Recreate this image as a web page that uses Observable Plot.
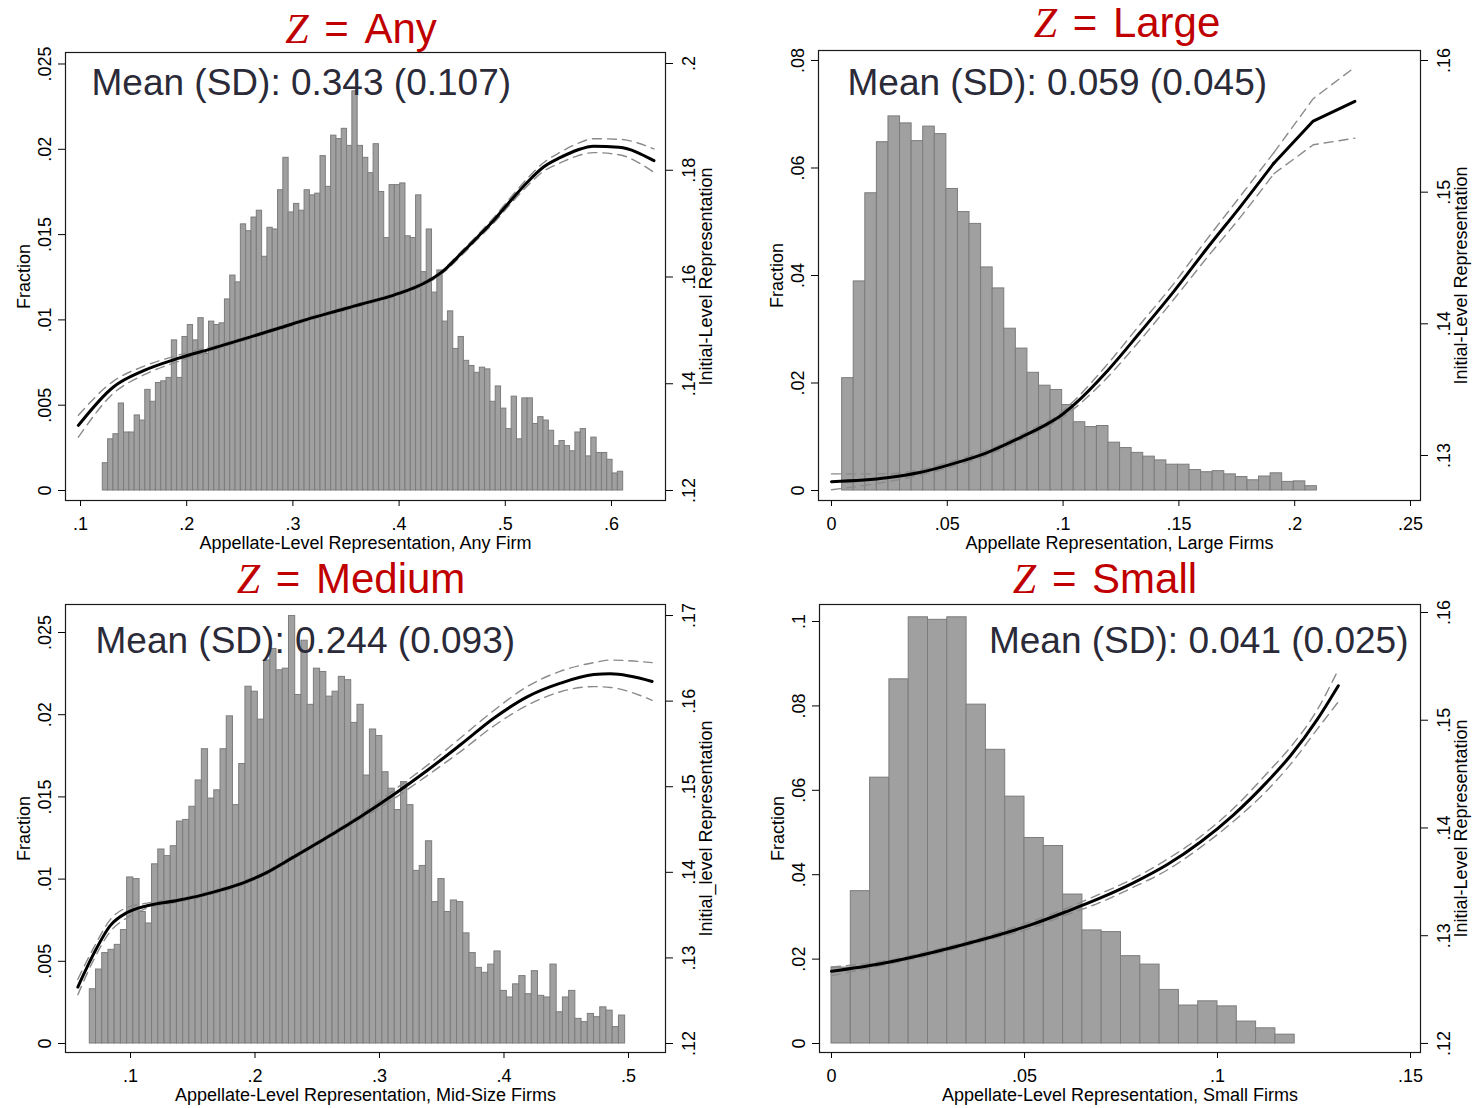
<!DOCTYPE html>
<html><head><meta charset="utf-8">
<script src="https://cdn.jsdelivr.net/npm/d3@7"></script>
<script src="https://cdn.jsdelivr.net/npm/@observablehq/plot@0.6"></script>
<style>
body{margin:0;background:#fff;}
#page{position:relative;width:1473px;height:1108px;overflow:hidden;background:#fff;font-family:"Liberation Sans",Arial,sans-serif;}
.layer{position:absolute;}
.layer svg{position:absolute;left:0;top:0;display:block;}
.ztitle{position:absolute;color:#c00000;font-size:42px;line-height:1;white-space:nowrap;transform:translateX(-50%);font-family:"Liberation Sans",Arial,sans-serif;}
.ztitle i{font-family:"Liberation Serif",serif;font-style:italic;}
.ztitle .eq{margin:0 4px;}
</style></head><body><div id="page"></div>
<script>
// ---------------- DATA ----------------
const binWidth = 0.005;

// Panel 1: Z = Any
const p1Title = "Any";
const p1Stat = "Mean (SD): 0.343 (0.107)";
const p1XLabel = "Appellate-Level Representation, Any Firm";
const p1YLabel = "Fraction";
const p1Y2Label = "Initial-Level Representation";
const p1XTicks = [0.1, 0.2, 0.3, 0.4, 0.5, 0.6];
const p1YTicks = [0, 0.005, 0.01, 0.015, 0.02, 0.025];
const p1Y2Ticks = [0.12, 0.14, 0.16, 0.18, 0.2];
const p1BinStart = 0.121;
const p1Frac = [0.0016,0.0030,0.0033,0.0051,0.0034,0.0034,0.0044,0.0041,0.0059,0.0052,
 0.0063,0.0064,0.0066,0.0088,0.0066,0.0090,0.0097,0.0088,0.0101,0.0080,
 0.0099,0.0097,0.0098,0.0112,0.0126,0.0122,0.0156,0.0152,0.0160,0.0164,
 0.0137,0.0154,0.0153,0.0176,0.0195,0.0163,0.0168,0.0164,0.0176,0.0173,
 0.0174,0.0196,0.0178,0.0208,0.0206,0.0212,0.0202,0.0234,0.0202,0.0195,
 0.0186,0.0203,0.0175,0.0148,0.0179,0.0179,0.0180,0.0149,0.0148,0.0173,
 0.0128,0.0153,0.0116,0.0129,0.0099,0.0105,0.0083,0.0090,0.0076,0.0073,
 0.0069,0.0072,0.0071,0.0052,0.0061,0.0048,0.0036,0.0055,0.0030,0.0054,
 0.0054,0.0039,0.0043,0.0041,0.0035,0.0026,0.0029,0.0026,0.0023,0.0034,
 0.0036,0.0020,0.0031,0.0022,0.0022,0.0018,0.0010,0.0011];
const p1LineX = [0.098,0.131,0.160,0.191,0.222,0.254,0.285,0.317,0.348,0.364,0.395,0.427,0.442,0.458,0.474,0.489,0.505,0.521,0.536,0.552,0.568,0.583,0.607,0.640];
const p1Fit = [0.1322,0.1394,0.1425,0.1447,0.1465,0.1484,0.1503,0.1523,0.1540,0.1549,0.1566,0.1592,0.1612,0.1643,0.1675,0.1706,0.1743,0.1778,0.1806,0.1824,0.1838,0.1845,0.1843,0.1818];
const p1Hi = [0.1341,0.1405,0.1433,0.1453,0.1469,0.1487,0.1506,0.1526,0.1543,0.1552,0.1569,0.1595,0.1615,0.1647,0.1679,0.1711,0.1749,0.1785,0.1814,0.1834,0.1850,0.1859,0.1858,0.1840];
const p1Lo = [0.1300,0.1382,0.1417,0.1441,0.1461,0.1481,0.1500,0.1520,0.1537,0.1546,0.1563,0.1589,0.1609,0.1639,0.1671,0.1701,0.1737,0.1771,0.1798,0.1814,0.1827,0.1833,0.1829,0.1796];

// Panel 2: Z = Large
const p2Title = "Large";
const p2Stat = "Mean (SD): 0.059 (0.045)";
const p2XLabel = "Appellate Representation, Large Firms";
const p2YLabel = "Fraction";
const p2Y2Label = "Initial-Level Representation";
const p2XTicks = [0, 0.05, 0.1, 0.15, 0.2, 0.25];
const p2YTicks = [0, 0.02, 0.04, 0.06, 0.08];
const p2Y2Ticks = [0.13, 0.14, 0.15, 0.16];
const p2BinStart = 0.0046;
const p2Frac = [0.0209,0.0389,0.0553,0.0648,0.0696,0.0683,0.0650,0.0677,0.0663,0.0561,
 0.0518,0.0496,0.0415,0.0376,0.0301,0.0264,0.0219,0.0195,0.0187,0.0159,
 0.0127,0.0118,0.0120,0.0089,0.0079,0.0070,0.0063,0.0056,0.0048,0.0048,
 0.0038,0.0034,0.0036,0.0030,0.0025,0.0019,0.0026,0.0032,0.0016,0.0017,0.0008];
const p2LineX = [0.000,0.024,0.038,0.053,0.067,0.082,0.090,0.098,0.105,0.119,0.133,0.148,0.162,0.177,0.191,0.208,0.226];
const p2Fit = [0.1280,0.1283,0.1287,0.1294,0.1302,0.1314,0.1321,0.1329,0.1339,0.1364,0.1393,0.1425,0.1457,0.1490,0.1522,0.1554,0.1569];
const p2Hi = [0.1286,0.1286,0.1289,0.1296,0.1304,0.1316,0.1323,0.1331,0.1342,0.1369,0.1399,0.1431,0.1464,0.1498,0.1530,0.1571,0.1595];
const p2Lo = [0.1274,0.1280,0.1285,0.1292,0.1300,0.1312,0.1319,0.1327,0.1336,0.1359,0.1387,0.1419,0.1450,0.1482,0.1514,0.1536,0.1541];

// Panel 3: Z = Medium
const p3Title = "Medium";
const p3Stat = "Mean (SD): 0.244 (0.093)";
const p3XLabel = "Appellate-Level Representation, Mid-Size Firms";
const p3YLabel = "Fraction";
const p3Y2Label = "Initial_level Representation";
const p3XTicks = [0.1, 0.2, 0.3, 0.4, 0.5];
const p3YTicks = [0, 0.005, 0.01, 0.015, 0.02, 0.025];
const p3Y2Ticks = [0.12, 0.13, 0.14, 0.15, 0.16, 0.17];
const p3BinStart = 0.0673;
const p3Frac = [0.0033,0.0045,0.0055,0.0057,0.0060,0.0069,0.0101,0.0100,0.0080,0.0073,
 0.0109,0.0118,0.0114,0.0120,0.0135,0.0136,0.0144,0.0160,0.0179,0.0149,
 0.0154,0.0179,0.0199,0.0145,0.0170,0.0217,0.0214,0.0197,0.0233,0.0240,
 0.0227,0.0228,0.0260,0.0212,0.0245,0.0206,0.0228,0.0226,0.0211,0.0214,
 0.0223,0.0221,0.0195,0.0206,0.0163,0.0191,0.0187,0.0165,0.0155,0.0142,
 0.0159,0.0145,0.0105,0.0108,0.0123,0.0086,0.0100,0.0080,0.0087,0.0086,
 0.0067,0.0055,0.0046,0.0043,0.0048,0.0056,0.0032,0.0028,0.0036,0.0041,
 0.0030,0.0044,0.0029,0.0028,0.0048,0.0019,0.0028,0.0032,0.0015,0.0013,
 0.0018,0.0016,0.0022,0.0020,0.0010,0.0017];
const p3LineX = [0.0577,0.0705,0.0839,0.0973,0.1134,0.1375,0.1643,0.191,0.2098,0.2312,0.258,0.2847,0.3115,0.3383,0.365,0.3918,0.4186,0.4454,0.4721,0.4855,0.519];
const p3Fit = [0.1266,0.1305,0.1338,0.1353,0.1361,0.1367,0.1376,0.1388,0.1400,0.1418,0.1441,0.1465,0.1491,0.1519,0.1549,0.1580,0.1605,0.1621,0.1631,0.1632,0.1623];
const p3Hi = [0.1275,0.1312,0.1345,0.1359,0.1364,0.1369,0.1378,0.1390,0.1402,0.1420,0.1443,0.1468,0.1496,0.1525,0.1557,0.1589,0.1617,0.1635,0.1645,0.1648,0.1645];
const p3Lo = [0.1257,0.1298,0.1331,0.1347,0.1358,0.1365,0.1374,0.1386,0.1398,0.1416,0.1439,0.1462,0.1486,0.1513,0.1541,0.1571,0.1595,0.1611,0.1617,0.1616,0.1601];

// Panel 4: Z = Small
const p4Title = "Small";
const p4Stat = "Mean (SD): 0.041 (0.025)";
const p4XLabel = "Appellate-Level Representation, Small Firms";
const p4YLabel = "Fraction";
const p4Y2Label = "Initial-Level Representation";
const p4XTicks = [0, 0.05, 0.1, 0.15];
const p4YTicks = [0, 0.02, 0.04, 0.06, 0.08, 0.1];
const p4Y2Ticks = [0.12, 0.13, 0.14, 0.15, 0.16];
const p4BinStart = 0;
const p4Frac = [0.0180,0.0361,0.0630,0.0863,0.1010,0.1004,0.1010,0.0803,0.0696,0.0585,
 0.0487,0.0468,0.0353,0.0268,0.0264,0.0207,0.0187,0.0127,0.0090,0.0100,
 0.0088,0.0052,0.0036,0.0021];
const p4LineX = [0,0.0127,0.0256,0.0386,0.0516,0.0606,0.0697,0.0782,0.087,0.0956,0.1041,0.1129,0.1189,0.1259,0.1313];
const p4Fit = [0.1267,0.1274,0.1284,0.1296,0.1310,0.1322,0.1335,0.1349,0.1366,0.1387,0.1412,0.1443,0.1467,0.1501,0.1532];
const p4Hi = [0.1271,0.1276,0.1286,0.1298,0.1313,0.1325,0.1339,0.1353,0.1371,0.1392,0.1418,0.1451,0.1475,0.1510,0.1547];
const p4Lo = [0.1263,0.1272,0.1282,0.1294,0.1307,0.1319,0.1331,0.1345,0.1361,0.1382,0.1406,0.1435,0.1459,0.1492,0.1517];

// ---------------- LAYOUT ----------------
const panels = [
  {title:p1Title, stat:p1Stat, xLabel:p1XLabel, yLabel:p1YLabel, y2Label:p1Y2Label,
   xTicks:p1XTicks, yTicks:p1YTicks, y2Ticks:p1Y2Ticks, binStart:p1BinStart, frac:p1Frac,
   lx:p1LineX, fit:p1Fit, hi:p1Hi, lo:p1Lo, linearFrom:null,
   box:[0,0,736,554], frame:[65,52,665,500],
   xDomain:[0.08588,0.65085], yDomain:[-0.000586,0.025674], y2Domain:[0.11813,0.20206],
   statRight:false, statDx:26, statDy:42, titleX:361, titleBase:44},
  {title:p2Title, stat:p2Stat, xLabel:p2XLabel, yLabel:p2YLabel, y2Label:p2Y2Label,
   xTicks:p2XTicks, yTicks:p2YTicks, y2Ticks:p2Y2Ticks, binStart:p2BinStart, frac:p2Frac,
   lx:p2LineX, fit:p2Fit, hi:p2Hi, lo:p2Lo, linearFrom:0.191,
   box:[736,0,1473,554], frame:[818,50,1420,500],
   xDomain:[-0.00561,0.25432], yDomain:[-0.00186,0.08186], y2Domain:[0.12658,0.16076],
   statRight:false, statDx:29, statDy:44, titleX:1127, titleBase:38},
  {title:p3Title, stat:p3Stat, xLabel:p3XLabel, yLabel:p3YLabel, y2Label:p3Y2Label,
   xTicks:p3XTicks, yTicks:p3YTicks, y2Ticks:p3Y2Ticks, binStart:p3BinStart, frac:p3Frac,
   lx:p3LineX, fit:p3Fit, hi:p3Hi, lo:p3Lo, linearFrom:null,
   box:[0,554,736,1108], frame:[65,604,665,1052],
   xDomain:[0.04779,0.52972], yDomain:[-0.000547,0.026703], y2Domain:[0.11895,0.17129],
   statRight:false, statDx:30, statDy:48, titleX:351, titleBase:594},
  {title:p4Title, stat:p4Stat, xLabel:p4XLabel, yLabel:p4YLabel, y2Label:p4Y2Label,
   xTicks:p4XTicks, yTicks:p4YTicks, y2Ticks:p4Y2Ticks, binStart:p4BinStart, frac:p4Frac,
   lx:p4LineX, fit:p4Fit, hi:p4Hi, lo:p4Lo, linearFrom:null,
   box:[736,554,1473,1108], frame:[819,604,1420,1052],
   xDomain:[-0.00311,0.15259], yDomain:[-0.00213,0.10403], y2Domain:[0.11916,0.16074],
   statRight:true, statDx:-12, statDy:48, titleX:1105, titleBase:594}
];

const FONT = '"Liberation Sans", Arial, Helvetica, sans-serif';
const fmt = d => d === 0 ? "0" : d3.format(".3~f")(d).replace(/^0\./, ".");
const page = document.getElementById("page");

function seriesMarks(rows, key, opts, linearFrom) {
  if (linearFrom == null) return [Plot.line(rows, {x: "x", y: key, curve: "monotone-x", ...opts})];
  return [
    Plot.line(rows.filter(r => r.x <= linearFrom), {x: "x", y: key, curve: "monotone-x", ...opts}),
    Plot.line(rows.filter(r => r.x >= linearFrom), {x: "x", y: key, curve: "linear", ...opts})
  ];
}

for (const p of panels) {
  const [bx0, by0, bx1, by1] = p.box;
  const [fx0, fy0, fx1, fy1] = p.frame;
  const W = bx1 - bx0, H = by1 - by0;
  const margins = {marginLeft: fx0 - bx0, marginRight: bx1 - fx1, marginTop: fy0 - by0, marginBottom: by1 - fy1};
  const style = {background: "transparent", overflow: "visible", fontFamily: FONT, fontSize: "18px", color: "#000", maxWidth: "none"};

  const bins = p.frac.map((f, i) => ({x1: p.binStart + i * binWidth, x2: p.binStart + (i + 1) * binWidth, f}));
  const rows = p.lx.map((x, i) => ({x, fit: p.fit[i], hi: p.hi[i], lo: p.lo[i]}));

  const layer = document.createElement("div");
  layer.className = "layer";
  Object.assign(layer.style, {left: bx0 + "px", top: by0 + "px", width: W + "px", height: H + "px"});

  const hist = Plot.plot({
    width: W, height: H, ...margins, style,
    x: {domain: p.xDomain},
    y: {domain: p.yDomain},
    marks: [
      Plot.rectY(bins, {x1: "x1", x2: "x2", y: "f", fill: "#a0a0a0", stroke: "#7c7c7c", strokeWidth: 1}),
      Plot.frame({stroke: "#1a1a1a", strokeWidth: 1.2}),
      Plot.axisX({ticks: p.xTicks, tickFormat: fmt, tickSize: 6, tickPadding: 11, label: null, fontSize: 18}),
      Plot.axisY({anchor: "left", ticks: p.yTicks, tickFormat: fmt, tickSize: 7, tickPadding: 8, tickRotate: -90, label: null, fontSize: 18}),
      Plot.text([p.xLabel], {frameAnchor: "bottom", dy: 36, textAnchor: "middle", lineAnchor: "top", fontSize: 18, fill: "#000"}),
      Plot.text([p.yLabel], {frameAnchor: "left", dx: -36, rotate: -90, textAnchor: "middle", lineAnchor: "bottom", fontSize: 18, fill: "#000"}),
      Plot.text([p.stat], {frameAnchor: p.statRight ? "top-right" : "top-left", textAnchor: p.statRight ? "end" : "start",
        dx: p.statDx, dy: p.statDy, lineAnchor: "bottom", fontSize: 37, fill: "#2a2a38"})
    ]
  });

  const dashOpts = {stroke: "#8a8a8a", strokeWidth: 1.4, strokeDasharray: "9,6"};
  const fitOpts = {stroke: "#000", strokeWidth: 3};
  const fitPlot = Plot.plot({
    width: W, height: H, ...margins, style,
    x: {domain: p.xDomain, axis: null},
    y: {domain: p.y2Domain},
    marks: [
      ...seriesMarks(rows, "hi", dashOpts, p.linearFrom),
      ...seriesMarks(rows, "lo", dashOpts, p.linearFrom),
      ...seriesMarks(rows, "fit", fitOpts, p.linearFrom),
      Plot.axisY({anchor: "right", ticks: p.y2Ticks, tickFormat: fmt, tickSize: 7, tickPadding: 10, tickRotate: -90, lineAnchor: "top", label: null, fontSize: 18}),
      Plot.text([p.y2Label], {frameAnchor: "right", dx: 34, rotate: -90, textAnchor: "middle", lineAnchor: "top", fontSize: 18, fill: "#000"})
    ]
  });

  layer.appendChild(hist);
  layer.appendChild(fitPlot);
  page.appendChild(layer);

  const t = document.createElement("div");
  t.className = "ztitle";
  t.innerHTML = '<i>Z</i><span class="eq"> = </span>' + p.title;
  t.style.left = p.titleX + "px";
  t.style.top = (p.titleBase - 36) + "px";
  page.appendChild(t);
}
</script></body></html>
